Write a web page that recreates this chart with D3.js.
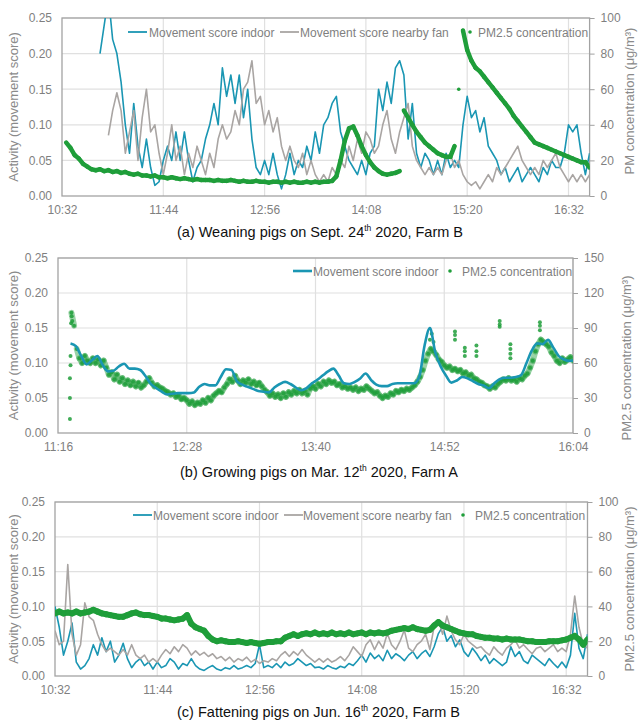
<!DOCTYPE html>
<html>
<head>
<meta charset="utf-8">
<script src="https://cdn.jsdelivr.net/npm/d3@7"></script>
<style>
body { margin: 0; background: #fff; }
svg { font-family: "Liberation Sans", Arial, sans-serif; }
</style>
</head>
<body>
<svg width="643" height="727"></svg>
<script>
// ---------- data ----------

// left axis (activity) is shared by all three panels
const activityTicks = [0, 0.05, 0.10, 0.15, 0.20, 0.25];

// (a) weaning pigs, 3-minute readings
const aTicks = ['10:32', '11:44', '12:56', '14:08', '15:20', '16:32'];
const aPmTicks = [0, 20, 40, 60, 80, 100];
const aIndoorStart = '10:59';
const aIndoor = [0.20,0.24,0.28,0.22,0.20,0.16,0.10,0.06,0.13,0.07,0.04,0.08,0.04,0.015,0.02,0.05,0.07,0.05,0.09,0.05,
  0.09,0.05,0.02,0.04,0.05,0.08,0.10,0.13,0.10,0.18,0.14,0.17,0.13,0.17,0.11,0.15,0.08,0.04,0.03,0.05,
  0.03,0.06,0.03,0.01,0.03,0.06,0.03,0.05,0.04,0.07,0.05,0.09,0.06,0.10,0.11,0.13,0.14,0.09,0.07,0.05,
  0.04,0.03,0.05,0.03,0.06,0.07,0.15,0.12,0.16,0.13,0.18,0.19,0.17,0.08,0.13,0.06,0.04,0.06,0.05,0.03,
  0.05,0.03,0.06,0.04,0.05,0.04,0.10,0.14,0.11,0.12,0.09,0.11,0.07,0.06,0.05,0.03,0.04,0.02,0.03,0.04,
  0.02,0.03,0.04,0.03,0.02,0.04,0.03,0.05,0.04,0.04,0.06,0.10,0.09,0.10,0.06,0.03,0.06];
const aFanStart = '11:05';
const aFan = [0.085,0.12,0.145,0.12,0.06,0.09,0.12,0.05,0.11,0.15,0.09,0.10,0.06,0.03,0.06,0.10,0.05,0.07,0.03,0.06,
  0.04,0.07,0.05,0.03,0.06,0.04,0.08,0.10,0.08,0.09,0.12,0.10,0.15,0.16,0.19,0.13,0.14,0.10,0.12,0.09,
  0.11,0.07,0.05,0.07,0.05,0.04,0.06,0.03,0.05,0.03,0.02,0.03,0.02,0.04,0.03,0.05,0.04,0.07,0.05,0.08,
  0.06,0.09,0.08,0.06,0.07,0.10,0.12,0.08,0.06,0.09,0.11,0.13,0.07,0.05,0.04,0.03,0.04,0.03,0.04,0.03,
  0.05,0.06,0.04,0.05,0.03,0.02,0.015,0.02,0.01,0.02,0.03,0.02,0.04,0.03,0.04,0.05,0.06,0.07,0.05,0.04,
  0.03,0.04,0.03,0.05,0.04,0.05,0.06,0.04,0.03,0.02,0.03,0.02,0.03,0.02,0.03];
const aPmStart = '10:35';
const aPm = [30,27,23,21,18,16.5,15,14.5,15,14,14.5,13.5,14,13,13.5,12.5,12,12.5,11.5,11.5,
  11,11.5,10.5,10.5,10,10.5,10,9.5,10,9.5,9,9.5,9,9,9,8.5,9,8.5,8.5,9,
  8.5,8,8.5,8,8,8.5,8,8,7.5,8,8,7.5,8,7.5,8,7.5,7.5,8,7.5,8,
  7.5,8,8,8.5,11,20,31,38,39,34,28,23,19,16,14,12.5,12,12.5,13,14,
  48,44,40,36,33,30,28,26,24,23,22,22,28,60,93,82,76,72,70,67,
  64,61,58,55,52,49,45,42,39,36,33,30,29,28,27,26,25,24,23,22,
  21,20,19,19,16];

// (b) growing pigs
const bTicks = ['11:16', '12:28', '13:40', '14:52', '16:04'];
const bPmTicks = [0, 30, 60, 90, 120, 150];
const bIndoorStart = '11:23';   // 3-minute readings
const bIndoor = [0.128,0.124,0.110,0.098,0.104,0.110,0.097,0.088,0.089,0.095,0.099,0.092,0.092,0.090,0.081,0.070,0.064,0.059,0.055,0.056,
  0.057,0.057,0.057,0.058,0.066,0.070,0.068,0.068,0.080,0.091,0.090,0.074,0.069,0.066,0.063,0.060,0.059,0.058,0.065,0.070,
  0.073,0.070,0.065,0.061,0.064,0.071,0.076,0.082,0.088,0.092,0.082,0.071,0.070,0.073,0.078,0.085,0.076,0.069,0.067,0.067,
  0.070,0.071,0.071,0.071,0.071,0.080,0.125,0.150,0.115,0.095,0.082,0.072,0.075,0.080,0.078,0.074,0.070,0.068,0.064,0.071,
  0.077,0.079,0.079,0.080,0.083,0.100,0.118,0.128,0.127,0.133,0.122,0.110,0.105,0.103,0.104];
const bPmStart = '11:23:30';    // 1.5-minute readings
const bPm = [103,92,72,64,60,66,62,60,64,60,63,58,62,56,50,52,46,50,44,47,
  42,45,41,44,40,43,39,41,44,47,43,40,41,39,38,36,35,33,34,31,
  32,29,30,28,25,27,24,26,25,28,26,30,28,32,34,36,35,39,42,46,
  44,49,45,42,45,43,46,42,44,41,43,40,37,35,32,34,31,33,30,34,
  31,35,33,36,34,37,34,36,33,38,40,38,42,40,44,42,45,43,44,41,
  42,39,40,38,39,37,39,36,38,37,40,38,36,34,35,32,30,32,31,34,
  33,36,35,37,36,38,37,39,41,44,48,54,62,68,72,70,67,63,61,58,
  56,57,54,55,53,54,51,52,49,50,47,46,44,43,41,40,38,40,39,42,
  44,46,45,47,45,46,44,47,46,49,51,56,62,70,76,80,78,76,74,69,
  66,62,60,64,61,63,65,62];
const bPmSpikes = [['11:22:40',12],['11:22:40',30],['11:22:40',47],['11:23',58],['11:23',66],['11:23:20',94],['11:23:40',100],['11:24',96],
  ['14:44',80],['14:45',85],['14:46',78],
  ['14:58',80],['14:58',84],['14:58',87],
  ['15:03:30',66],['15:03:30',70],['15:03:30',73],
  ['15:10',66],['15:10',70],['15:10',75],
  ['15:23',91],['15:23',93],['15:23',96],
  ['15:29',64],['15:29',68],['15:29',72],['15:29',76],
  ['15:45:30',88],['15:45:30',92],['15:45:30',95]];

// (c) fattening pigs, 3-minute readings
const cTicks = ['10:32', '11:44', '12:56', '14:08', '15:20', '16:32'];
const cPmTicks = [0, 20, 40, 60, 80, 100];
const cStart = '10:32';
const cIndoor = [0.10,0.07,0.03,0.05,0.076,0.02,0.01,0.015,0.025,0.045,0.03,0.055,0.035,0.05,0.02,0.03,0.047,0.025,0.012,0.02,
  0.025,0.015,0.02,0.01,0.02,0.012,0.015,0.025,0.02,0.01,0.018,0.015,0.025,0.015,0.01,0.008,0.012,0.015,0.01,0.008,
  0.012,0.01,0.015,0.01,0.012,0.015,0.012,0.018,0.045,0.012,0.015,0.012,0.018,0.012,0.02,0.015,0.018,0.025,0.02,0.015,
  0.018,0.012,0.013,0.01,0.015,0.012,0.01,0.014,0.012,0.018,0.015,0.022,0.03,0.02,0.033,0.025,0.03,0.022,0.037,0.025,
  0.032,0.028,0.022,0.03,0.035,0.025,0.032,0.037,0.028,0.042,0.061,0.071,0.05,0.058,0.042,0.052,0.035,0.028,0.04,0.032,
  0.022,0.03,0.018,0.025,0.02,0.015,0.02,0.042,0.028,0.035,0.022,0.018,0.03,0.025,0.02,0.015,0.025,0.018,0.012,0.02,
  0.012,0.03,0.09,0.04,0.025,0.06];
const cFan = [0.065,0.045,0.05,0.16,0.06,0.03,0.045,0.105,0.085,0.08,0.06,0.045,0.035,0.04,0.035,0.03,0.038,0.03,0.045,0.03,
  0.025,0.03,0.02,0.025,0.02,0.03,0.038,0.032,0.042,0.035,0.045,0.04,0.03,0.036,0.03,0.034,0.028,0.032,0.025,0.028,
  0.022,0.027,0.02,0.025,0.022,0.027,0.02,0.024,0.018,0.022,0.02,0.025,0.022,0.03,0.035,0.028,0.035,0.03,0.038,0.03,
  0.025,0.02,0.025,0.02,0.025,0.02,0.023,0.028,0.022,0.03,0.042,0.035,0.028,0.045,0.052,0.038,0.05,0.04,0.061,0.045,
  0.038,0.05,0.066,0.04,0.035,0.045,0.05,0.06,0.038,0.071,0.08,0.06,0.086,0.065,0.052,0.045,0.06,0.05,0.045,0.04,
  0.042,0.035,0.03,0.042,0.035,0.03,0.04,0.045,0.052,0.04,0.045,0.038,0.032,0.04,0.042,0.035,0.04,0.045,0.035,0.04,
  0.035,0.06,0.115,0.07,0.045,0.04];
const cPm = [36,37,36,36.5,36,37,36,36.5,37,38,37,36,35.5,35,34.5,34,34,35,36,36.5,
  35.5,35,35,34.5,34,33,33,32.5,32,32.5,33,35,30,28,27,26,23,21,20,20.5,
  20,19.5,19.5,20,19.5,19,19.5,19,18.5,19,19.5,19.5,20,20,22,23,24,23,24,24.5,
  24,25,24,24.5,24,25,24,24.5,24,25,24,24.5,25,24,25,24.5,25,24.5,25,26,
  26.5,27,27.5,27,28,27,26.5,26,26.5,29,31,29,28,27,26,25,24.5,24,24,23,
  22.5,22,22,21.5,21.5,21,21.5,21,21,21,20.5,20,20,19.5,19.5,19.5,20,20,20,20.5,
  21,22,23,21,18,21];

// ---------- drawing ----------
const svg = d3.select('svg');
const teal = '#1a96b3', grey = '#a9a5a3', green = '#1f9e3a', txt = '#7f7f7f';

const clock = s => { const p = s.split(':').map(Number); return p[0] * 60 + p[1] + (p[2] || 0) / 60; };
const series = (start, step, vals) => vals.map((v, i) => ({ t: clock(start) + i * step, v }));

function panel(cfg) {
  const { left, right, top, bottom } = cfg.box;
  const x = d3.scaleLinear().domain(cfg.domain.map(clock)).range([left, right]);
  const y = d3.scaleLinear().domain([0, 0.25]).range([bottom, top]);
  const y2 = d3.scaleLinear().domain([0, d3.max(cfg.pmTicks)]).range([bottom, top]);
  const g = svg.append('g');

  svg.append('clipPath').attr('id', 'clip' + cfg.id)
    .append('rect').attr('x', left).attr('y', top).attr('width', right - left).attr('height', bottom - top);

  // grid
  g.append('g').selectAll('line').data(activityTicks.slice(1)).join('line')
    .attr('x1', left).attr('x2', right).attr('y1', d => y(d)).attr('y2', d => y(d))
    .attr('stroke', '#e0e0e0').attr('stroke-width', 1.2);
  g.append('g').selectAll('line').data(cfg.ticks.slice(1)).join('line')
    .attr('x1', d => x(clock(d))).attr('x2', d => x(clock(d))).attr('y1', top).attr('y2', bottom)
    .attr('stroke', '#e0e0e0').attr('stroke-width', 1.2);

  // axes
  const ax = g.append('g').attr('transform', `translate(${left},0)`)
    .call(d3.axisLeft(y).tickValues(activityTicks).tickFormat(d3.format('.2f')).tickSize(0).tickPadding(10));
  const bx = g.append('g').attr('transform', `translate(0,${bottom})`)
    .call(d3.axisBottom(x).tickValues(cfg.ticks.map(clock)).tickFormat((d, i) => cfg.ticks[i]).tickSize(0).tickPadding(9));
  const rx = g.append('g').attr('transform', `translate(${right},0)`)
    .call(d3.axisRight(y2).tickValues(cfg.pmTicks).tickSize(5).tickPadding(6));
  [ax, bx, rx].forEach(a => {
    a.select('.domain').remove();
    a.selectAll('text').attr('fill', txt).style('font-size', '12px');
    a.selectAll('line').attr('stroke', '#a0a0a0');
  });

  g.append('rect').attr('x', left).attr('y', top).attr('width', right - left).attr('height', bottom - top)
    .attr('fill', 'none').attr('stroke', '#a3a3a3').attr('stroke-width', 1.3);

  const plot = g.append('g').attr('clip-path', `url(#clip${cfg.id})`);
  const line = d3.line().x(d => x(d.t)).y(d => y(d.v));

  const drawLines = () => cfg.lines.forEach(l => {
    plot.append('path').datum(l.data)
      .attr('d', line.curve(l.smooth ? d3.curveMonotoneX : d3.curveLinear))
      .attr('fill', 'none').attr('stroke', l.color).attr('stroke-width', l.width).attr('stroke-linejoin', 'round');
  });

  const drawPm = () => {
    // dense band: join neighbouring readings unless the jump is very steep
    const segs = d3.pairs(cfg.pm.filter(d => !d.spike)).filter(([p, q]) => Math.abs(y2(p.v) - y2(q.v)) < 22);
    plot.append('g').selectAll('line').data(segs).join('line')
      .attr('x1', d => x(d[0].t)).attr('y1', d => y2(d[0].v))
      .attr('x2', d => x(d[1].t)).attr('y2', d => y2(d[1].v))
      .attr('stroke', green).attr('stroke-width', cfg.pmBand).attr('stroke-opacity', cfg.bandOpacity)
      .attr('stroke-linecap', 'round');
    plot.append('g').selectAll('circle').data(cfg.pm).join('circle')
      .attr('cx', d => x(d.t)).attr('cy', d => y2(d.v)).attr('r', cfg.dotR)
      .attr('fill', green).attr('fill-opacity', cfg.dotOpacity);
  };

  if (cfg.pmOnTop) { drawLines(); drawPm(); } else { drawPm(); drawLines(); }

  // axis titles
  const midY = (top + bottom) / 2;
  g.append('text').attr('transform', `translate(18,${midY}) rotate(-90)`)
    .attr('text-anchor', 'middle').attr('fill', '#8a8a8a').style('font-size', '13px')
    .text('Activity (movement score)');
  g.append('text').attr('transform', `translate(${cfg.rightTitleX},${cfg.rightTitleY}) rotate(-90)`)
    .attr('text-anchor', 'middle').attr('fill', '#8a8a8a').style('font-size', '13px')
    .text(cfg.rightTitle);

  // legend
  const lg = g.append('g').attr('transform', `translate(0,${cfg.legendY})`);
  cfg.legend.forEach(item => {
    if (item.kind === 'line') {
      lg.append('line').attr('x1', item.x).attr('x2', item.x + 19).attr('y1', 0).attr('y2', 0)
        .attr('stroke', item.color).attr('stroke-width', item.width);
    } else {
      lg.append('circle').attr('cx', item.x + 4).attr('cy', 0).attr('r', 1.8).attr('fill', green);
    }
    lg.append('text').attr('x', item.tx).attr('y', 4.5).attr('fill', txt).style('font-size', '12px').text(item.label);
  });

  // caption
  const cap = svg.append('text').attr('x', cfg.caption.x).attr('y', cfg.caption.y)
    .attr('textLength', cfg.caption.w).attr('lengthAdjust', 'spacing')
    .attr('fill', '#111').style('font-size', '14.5px');
  cap.append('tspan').text(cfg.caption.before);
  cap.append('tspan').attr('dy', -6).style('font-size', '8.5px').text('th');
  cap.append('tspan').attr('dy', 6).text(cfg.caption.after);
}

panel({
  id: 'a', box: { left: 62, right: 589.6, top: 18, bottom: 196 },
  domain: ['10:32', '16:47'], ticks: aTicks, pmTicks: aPmTicks,
  lines: [
    { data: series(aIndoorStart, 3, aIndoor), color: teal, width: 1.6 },
    { data: series(aFanStart, 3, aFan), color: grey, width: 1.6 }
  ],
  pm: series(aPmStart, 3, aPm), pmBand: 4.5, bandOpacity: 1, dotR: 1.8, dotOpacity: 1, pmOnTop: true,
  rightTitle: 'PM concentration (μg/m³)', rightTitleX: 634, rightTitleY: 101,
  legendY: 32,
  legend: [
    { kind: 'line', x: 128, tx: 149, color: teal, width: 1.8, label: 'Movement score indoor' },
    { kind: 'line', x: 280, tx: 300, color: grey, width: 1.8, label: 'Movement score nearby fan' },
    { kind: 'dot', x: 466, tx: 478, label: 'PM2.5 concentration' }
  ],
  caption: { x: 177, y: 237, w: 286, before: '(a) Weaning pigs on Sept. 24', after: ' 2020, Farm B' }
});

panel({
  id: 'b', box: { left: 58, right: 573, top: 258, bottom: 433 },
  domain: ['11:16', '16:04'], ticks: bTicks, pmTicks: bPmTicks,
  lines: [
    { data: series(bIndoorStart, 3, bIndoor), color: teal, width: 2.6, smooth: true }
  ],
  pm: series(bPmStart, 1.5, bPm).concat(bPmSpikes.map(([t, v]) => ({ t: clock(t), v, spike: true }))),
  pmBand: 6, bandOpacity: 0.45, dotR: 2, dotOpacity: 0.85, pmOnTop: false,
  rightTitle: 'PM2.5 concentration (μg/m³)', rightTitleX: 631, rightTitleY: 358,
  legendY: 271,
  legend: [
    { kind: 'line', x: 293, tx: 313, color: teal, width: 2.6, label: 'Movement score indoor' },
    { kind: 'dot', x: 446, tx: 462, label: 'PM2.5 concentration' }
  ],
  caption: { x: 180, y: 477, w: 278, before: '(b) Growing pigs on Mar. 12', after: ' 2020, Farm A' }
});

panel({
  id: 'c', box: { left: 55, right: 587.5, top: 502, bottom: 676 },
  domain: ['10:32', '16:47'], ticks: cTicks, pmTicks: cPmTicks,
  lines: [
    { data: series(cStart, 3, cIndoor), color: teal, width: 1.6 },
    { data: series(cStart, 3, cFan), color: grey, width: 1.6 }
  ],
  pm: series(cStart, 3, cPm), pmBand: 6, bandOpacity: 1, dotR: 1.9, dotOpacity: 1, pmOnTop: true,
  rightTitle: 'PM2.5 concentration (μg/m³)', rightTitleX: 634, rightTitleY: 589,
  legendY: 515,
  legend: [
    { kind: 'line', x: 133, tx: 153, color: teal, width: 1.8, label: 'Movement score indoor' },
    { kind: 'line', x: 284, tx: 303, color: grey, width: 1.8, label: 'Movement score nearby fan' },
    { kind: 'dot', x: 459, tx: 475, label: 'PM2.5 concentration' }
  ],
  caption: { x: 177, y: 717, w: 283, before: '(c) Fattening pigs on Jun. 16', after: ' 2020, Farm B' }
});
</script>
</body>
</html>
